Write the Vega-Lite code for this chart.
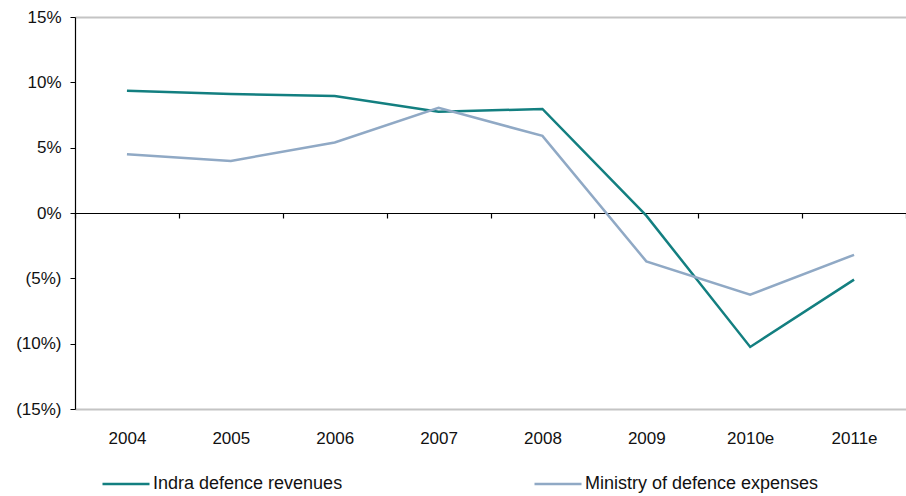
{
  "$schema": "https://vega.github.io/schema/vega-lite/v6.json",
  "width": 831,
  "height": 392,
  "autosize": "none",
  "padding": {"left": 75, "top": 17, "right": 0, "bottom": 87},
  "background": "white",
  "config": {
    "view": {"stroke": null},
    "font": "Liberation Sans"
  },
  "data": {
    "values": [
      {"year": "2004", "series": "Indra defence revenues", "value": 9.35},
      {"year": "2005", "series": "Indra defence revenues", "value": 9.1},
      {"year": "2006", "series": "Indra defence revenues", "value": 8.95},
      {"year": "2007", "series": "Indra defence revenues", "value": 7.75},
      {"year": "2008", "series": "Indra defence revenues", "value": 7.96},
      {"year": "2009", "series": "Indra defence revenues", "value": -0.2},
      {"year": "2010e", "series": "Indra defence revenues", "value": -10.25},
      {"year": "2011e", "series": "Indra defence revenues", "value": -5.1},
      {"year": "2004", "series": "Ministry of defence expenses", "value": 4.5},
      {"year": "2005", "series": "Ministry of defence expenses", "value": 3.98},
      {"year": "2006", "series": "Ministry of defence expenses", "value": 5.4},
      {"year": "2007", "series": "Ministry of defence expenses", "value": 8.05},
      {"year": "2008", "series": "Ministry of defence expenses", "value": 5.9},
      {"year": "2009", "series": "Ministry of defence expenses", "value": -3.7},
      {"year": "2010e", "series": "Ministry of defence expenses", "value": -6.25},
      {"year": "2011e", "series": "Ministry of defence expenses", "value": -3.2}
    ]
  },
  "mark": {"type": "line", "strokeWidth": 2.5},
  "encoding": {
    "x": {
      "field": "year",
      "type": "ordinal",
      "scale": {"type": "band", "paddingInner": 0, "paddingOuter": 0},
      "axis": {
        "title": null,
        "offset": -196,
        "domainColor": "#000000",
        "domainWidth": 1.2,
        "tickColor": "#000000",
        "tickWidth": 1.2,
        "tickSize": 5,
        "tickBand": "extent",
        "labelAngle": 0,
        "labelFont": "Liberation Sans",
        "labelFontSize": 17,
        "labelColor": "#111111",
        "labelPadding": 212,
        "labelBaseline": "top",
        "grid": false
      }
    },
    "y": {
      "field": "value",
      "type": "quantitative",
      "scale": {"domain": [-15, 15], "nice": false, "zero": false},
      "axis": {
        "title": null,
        "values": [-15, -10, -5, 0, 5, 10, 15],
        "labelExpr": "datum.value < 0 ? '(' + abs(datum.value) + '%)' : datum.value + '%'",
        "domainColor": "#000000",
        "domainWidth": 1.2,
        "tickColor": "#000000",
        "tickSize": 5,
        "labelPadding": 9,
        "labelFont": "Liberation Sans",
        "labelFontSize": 17,
        "labelColor": "#111111",
        "grid": true,
        "gridWidth": 2,
        "gridColor": {"condition": {"test": "abs(datum.value) == 15", "value": "#c4c4c4"}, "value": "transparent"}
      }
    },
    "color": {
      "field": "series",
      "type": "nominal",
      "scale": {
        "domain": ["Indra defence revenues", "Ministry of defence expenses"],
        "range": ["#137f80", "#90a9c5"]
      },
      "legend": {
        "title": null,
        "orient": "none",
        "legendX": 26,
        "legendY": 442,
        "direction": "horizontal",
        "symbolType": "stroke",
        "symbolSize": 2209,
        "symbolStrokeWidth": 2.5,
        "labelFont": "Liberation Sans",
        "labelFontSize": 18,
        "labelColor": "#111111",
        "labelOffset": 2,
        "columnPadding": 186,
        "labelLimit": 400
      }
    }
  }
}
